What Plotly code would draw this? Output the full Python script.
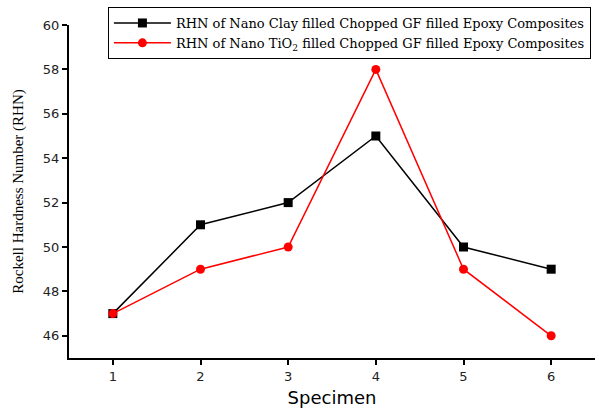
import plotly.graph_objects as go

specimen = [1, 2, 3, 4, 5, 6]
clay = [47, 51, 52, 55, 50, 49]
tio2 = [47, 49, 50, 58, 49, 46]
names = ["RHN of Nano Clay filled Chopped GF filled Epoxy Composites",
         "RHN of Nano TiO<sub>2</sub> filled Chopped GF filled Epoxy Composites"]
yticks = [46, 48, 50, 52, 54, 56, 58, 60]

fig = go.Figure()
fig.add_trace(go.Scatter(x=specimen, y=clay, name=names[0], mode="lines+markers",
                         line=dict(color="black", width=1.5),
                         marker=dict(symbol="square", size=9, color="black")))
fig.add_trace(go.Scatter(x=specimen, y=tio2, name=names[1], mode="lines+markers",
                         line=dict(color="red", width=1.5),
                         marker=dict(symbol="circle", size=9, color="red")))

fig.update_layout(
    width=599, height=412,
    margin=dict(l=69, r=4, t=25, b=54),
    paper_bgcolor="white", plot_bgcolor="white",
    showlegend=True,
    legend=dict(x=0.074, y=1.054, xanchor="left", yanchor="top",
                bordercolor="black", borderwidth=1, bgcolor="white",
                font=dict(family="DejaVu Serif", size=13, color="black"),
                tracegroupgap=0, itemwidth=57),
    xaxis=dict(range=[0.5, 6.5], tickvals=specimen, showline=True, linecolor="black",
               linewidth=2, ticks="outside", ticklen=5, tickwidth=1.5, tickcolor="black",
               showgrid=False, zeroline=False,
               tickfont=dict(family="DejaVu Sans", size=13, color="#222"),
               title=dict(text="Specimen", font=dict(family="DejaVu Sans", size=18, color="black"),
                          standoff=9)),
    yaxis=dict(range=[45, 60], tickvals=yticks, showline=True, linecolor="black",
               linewidth=2, ticks="outside", ticklen=5, tickwidth=1.5, tickcolor="black",
               showgrid=False, zeroline=False,
               tickfont=dict(family="DejaVu Sans", size=13, color="#222"),
               title=dict(text="Rockell Hardness Number (RHN)",
                          font=dict(family="Liberation Serif", size=15, color="black"),
                          standoff=16)),
)
fig.write_html("out.html")
